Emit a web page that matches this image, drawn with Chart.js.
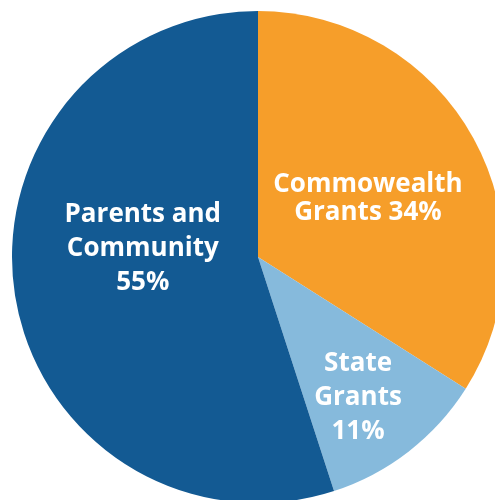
<!DOCTYPE html>
<html>
<head>
<meta charset="utf-8">
<script src="https://cdn.jsdelivr.net/npm/chart.js@4"></script>
<style>
  html, body { margin: 0; padding: 0; background: #fff; overflow: hidden; }
  .wrap { position: absolute; left: 0; top: -1px; width: 516px; height: 516px; }
</style>
</head>
<body>
<div class="wrap"><canvas id="myChart"></canvas></div>
<script>
// slices go clockwise from 12 o'clock
const labels = [['Commowealth', 'Grants 34%'], ['State', 'Grants', '11%'], ['Parents and', 'Community', '55%']]
const values = [34, 11, 55]
const colors = ['#F69E2A', '#86BADC', '#135A93']
// where each label sits: fraction along the slice angle, fraction of radius out
const labelAt = [0.5, 0.55, 0.57]
const labelDist = [0.51, 0.695, 0.47]
const lineGap = [28, 34, 34]

const sliceLabels = {
  id: 'sliceLabels',
  afterDatasetsDraw(chart) {
    const ctx = chart.ctx
    const arcs = chart.getDatasetMeta(0).data
    const size = 26
    const capH = size * 0.714
    ctx.save()
    ctx.fillStyle = '#fff'
    ctx.font = 'bold ' + size + 'px "Open Sans"'
    ctx.textAlign = 'center'
    ctx.textBaseline = 'alphabetic'
    arcs.forEach((arc, i) => {
      const p = arc.getProps(['x', 'y', 'startAngle', 'endAngle', 'outerRadius'], true)
      const a = p.startAngle + (p.endAngle - p.startAngle) * labelAt[i]
      const r = p.outerRadius * labelDist[i]
      const cx = p.x + Math.cos(a) * r
      const cy = p.y + Math.sin(a) * r
      const lines = labels[i]
      lines.forEach((t, j) => {
        const y = cy + (j - (lines.length - 1) / 2) * lineGap[i] + capH / 2
        ctx.fillText(t, cx, y)
      })
    })
    ctx.restore()
  }
}

new Chart(document.getElementById('myChart'), {
  type: 'pie',
  data: {
    labels: labels.map(l => l.join(' ')),
    datasets: [{
      data: values,
      backgroundColor: colors,
      borderWidth: 0
    }]
  },
  options: {
    responsive: true,
    maintainAspectRatio: false,
    animation: false,
    layout: { padding: 12 },
    plugins: {
      legend: { display: false },
      tooltip: { enabled: false }
    }
  },
  plugins: [sliceLabels]
})
</script>
</body>
</html>
